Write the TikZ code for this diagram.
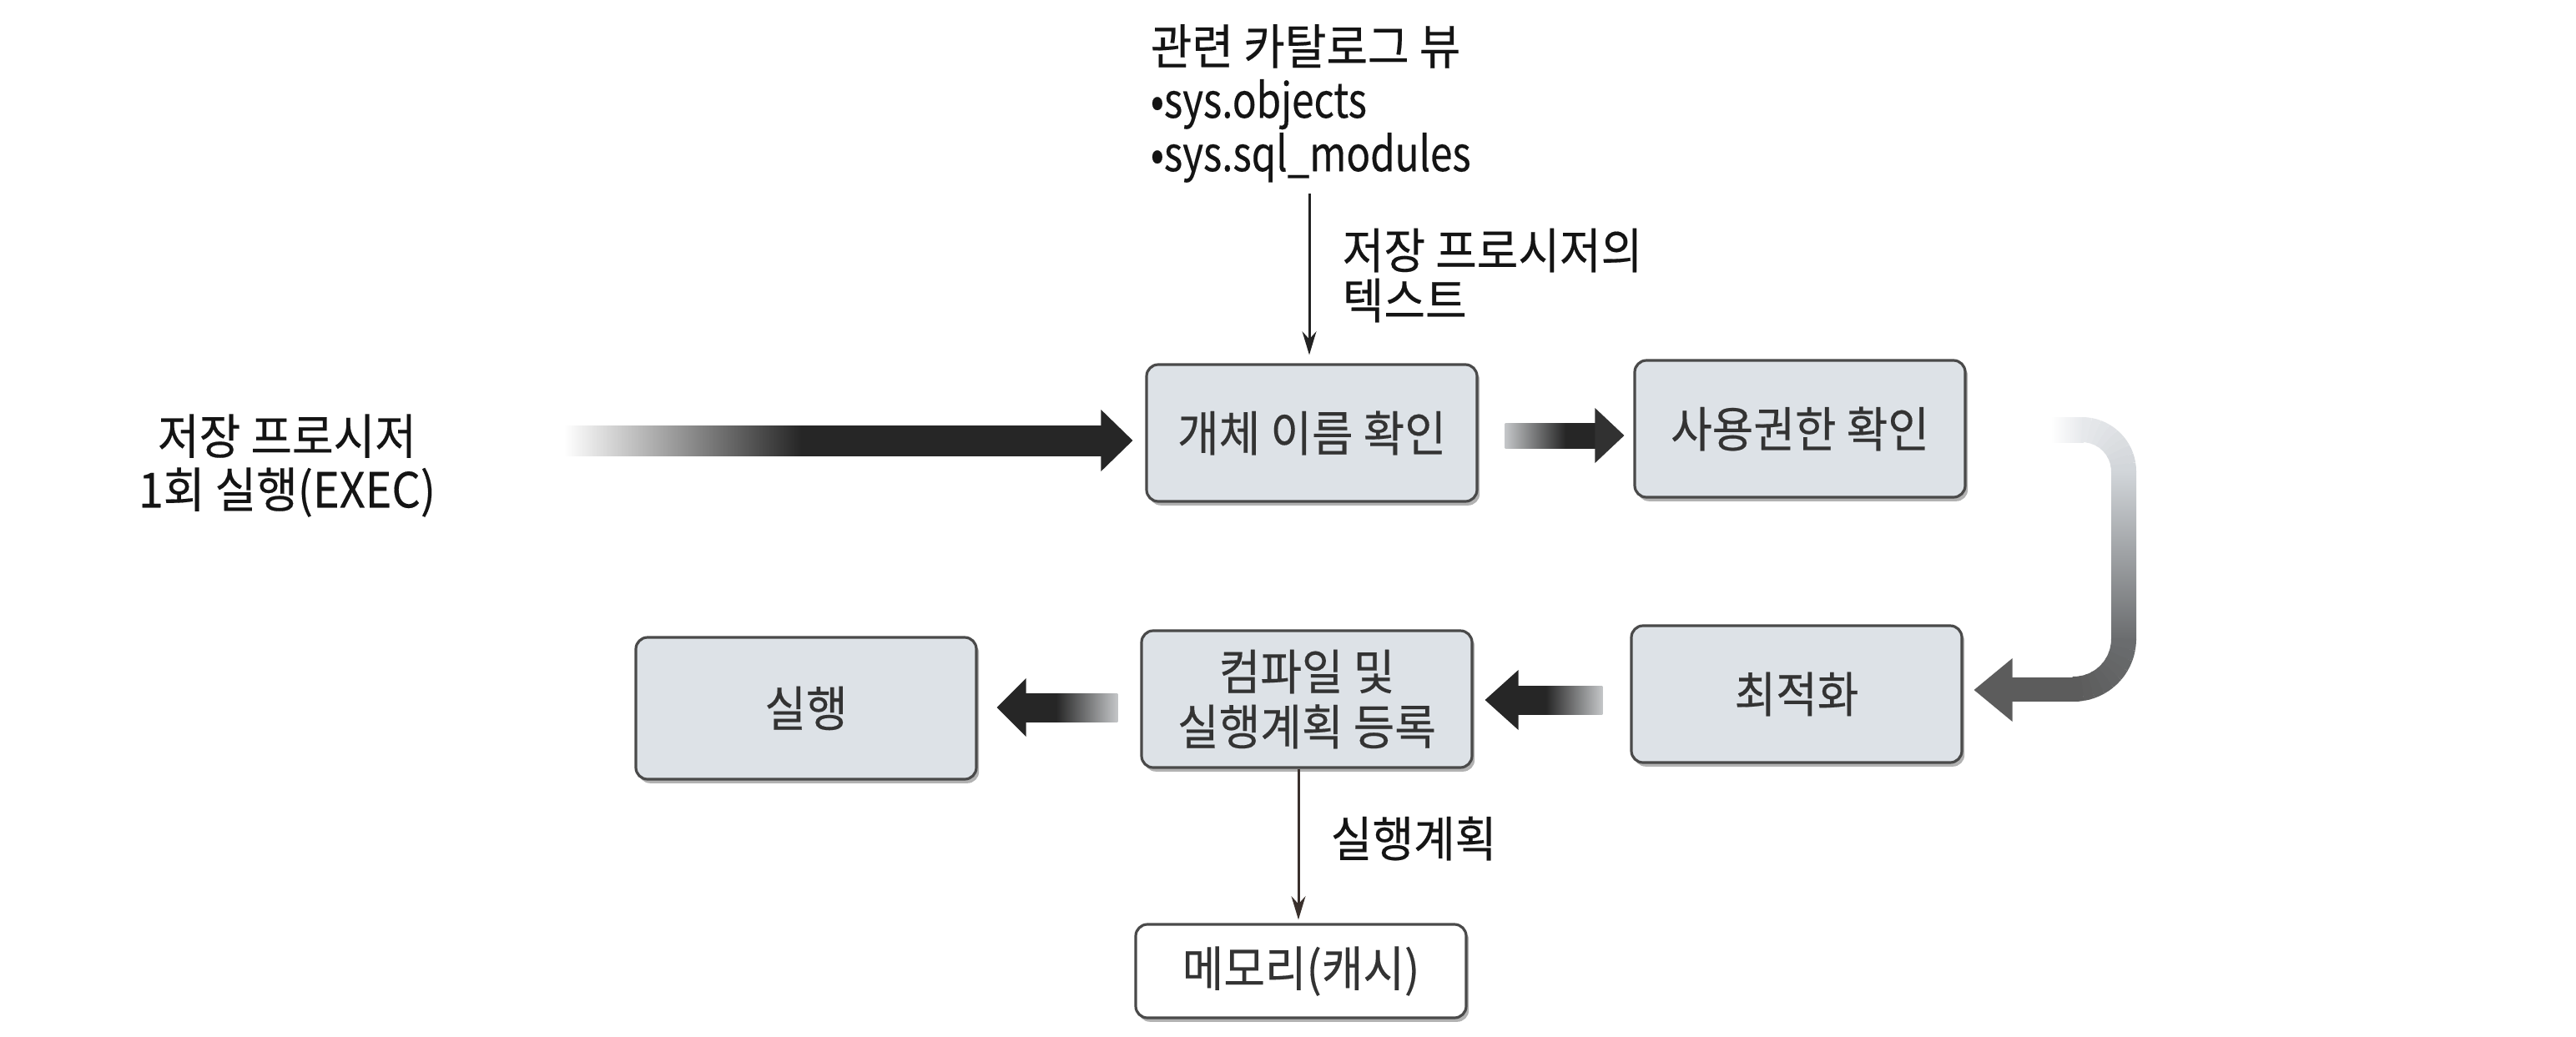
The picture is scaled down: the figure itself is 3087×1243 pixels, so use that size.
\documentclass[tikz,border=0pt]{standalone}
\usepackage{fontspec}
\setmainfont{Noto Sans CJK KR}[FakeStretch=0.93, FakeBold=0.3]
\newfontfamily\lat{Noto Sans CJK KR}[FakeStretch=0.82, FakeBold=0.3]
\usetikzlibrary{calc,shadows,arrows.meta}
\definecolor{boxfill}{HTML}{DDE2E7}
\definecolor{boxline}{HTML}{4A4A4A}
\definecolor{boxtext}{HTML}{333333}
\definecolor{adark}{HTML}{262626}
\definecolor{alight}{HTML}{C4C6C8}
\definecolor{cA}{HTML}{E6E8EB}
\definecolor{cB}{HTML}{D2D6DA}
\definecolor{cM}{HTML}{A0A4A8}
\definecolor{cC}{HTML}{6A6C6E}
\definecolor{cD}{HTML}{5C5C5C}
\definecolor{thinline}{HTML}{222222}
\definecolor{thinbrown}{HTML}{3A302C}
\pgfdeclarehorizontalshading{infade}{100bp}{color(0bp)=(white); color(25bp)=(white); color(47bp)=(adark); color(100bp)=(adark)}
\pgfdeclarehorizontalshading{rfade}{100bp}{color(0bp)=(alight); color(25bp)=(alight); color(58bp)=(adark); color(100bp)=(adark)}
\pgfdeclarehorizontalshading{lfade}{100bp}{color(0bp)=(adark); color(42bp)=(adark); color(75bp)=(alight); color(100bp)=(alight)}
\tikzset{
  box/.style={draw=boxline, line width=0.8pt, fill=boxfill, rounded corners=3.5pt,
    minimum width=99pt, minimum height=41pt, text=boxtext, align=center, inner sep=0pt,
    font=\fontsize{14.5}{16.5}\selectfont,
    drop shadow={shadow xshift=0.8pt, shadow yshift=-1.2pt, fill=black!50, opacity=0.6}},
  lbl/.style={inner sep=0pt, text=black!92, font=\fontsize{14.5}{16}\selectfont},
  thinarr/.style={line width=0.75pt, draw=thinline, -{Stealth[length=7pt,width=4.2pt]}},
}
\begin{document}
\begin{tikzpicture}[x=0.25pt,y=-0.25pt]
\useasboundingbox (0,0) rectangle (3087,1243);
\fill[white] (0,0) rectangle (3087,1243);

% boxes
\node[box] (b1) at (1572,519) {개체 이름 확인};
\node[box] (b2) at (2157,514) {사용권한 확인};
\node[box] (b3) at (2153,832) {최적화};
\node[box] (b4) at (1566,838) {컴파일 및\\실행계획 등록};
\node[box, minimum width=102pt, minimum height=42.5pt] (b5) at (966,849) {실행};
\node[box, fill=white, minimum height=28pt] (b6) at (1559,1164) {메모리(캐시)};

% labels
\node[lbl, anchor=west, align=left] (cat) at (1378,124) {관련 카탈로그 뷰\\{\lat •sys.objects}\\{\lat •sys.sql\_modules}};
\node[lbl, anchor=west, align=left, font=\fontsize{14.5}{15}\selectfont] (tl) at (1608,330) {저장 프로시저의\\텍스트};
\node[lbl, align=center] (inl) at (344,558) {저장 프로시저\\1회 실행(EXEC)};
\node[lbl, anchor=west] (pl) at (1594,1005) {실행계획};

% thin arrows
\coordinate (t0) at (1569,232);
\draw[thinarr, shorten >=2.5pt] (t0) -- (t0 |- b1.north);
\coordinate (m0) at ($(b4.south)+(-10,0)$);
\draw[thinarr, draw=thinbrown, shorten >=1pt] (m0) -- (m0 |- b6.north);

% input fat arrow
\coordinate (in0) at (676,528);
\coordinate (in1) at ($(b1.west|-in0)+(-15,0)$);
\shade[shading=infade] (in0) ++(0,-18) rectangle ($(in1)+(-36,18)$);
\fill[adark] ($(in1)+(-38,-37)$) -- (in1) -- ($(in1)+(-38,37)$) -- cycle;

% b1 -> b2
\coordinate (a1) at ($(b1.east)+(32,3)$);
\coordinate (a1t) at ($(b2.west|-a1)+(-11,0)$);
\shade[shading=rfade] (a1) ++(0,-15) rectangle ($(a1t)+(-33,15)$);
\fill[adark!95] ($(a1t)+(-35,-33)$) -- (a1t) -- ($(a1t)+(-35,33)$) -- cycle;

% b3 -> b4
\coordinate (a3) at ($(b3.west)+(-33,7)$);
\coordinate (a3t) at ($(b4.east|-a3)+(14,0)$);
\shade[shading=lfade] ($(a3t)+(38,-17)$) rectangle ($(a3)+(0,17)$);
\fill[adark] ($(a3t)+(40,-36)$) -- (a3t) -- ($(a3t)+(40,36)$) -- cycle;

% b4 -> b5
\coordinate (a4) at ($(b4.west)+(-27,10)$);
\coordinate (a4t) at ($(b5.east|-a4)+(23,0)$);
\shade[shading=lfade] ($(a4t)+(33,-17)$) rectangle ($(a4)+(0,17)$);
\fill[adark] ($(a4t)+(35,-35)$) -- (a4t) -- ($(a4t)+(35,35)$) -- cycle;

% curved arrow b2 -> b3
\shade[left color=white, right color=cA] (2458,500) rectangle (2497,530);
\foreach \i in {0,...,8} {
  \pgfmathtruncatemacro\p{\i*12.5}
  \draw[line width=7.5pt, color=cB!\p!cA] (2495,565) ++({-90+10*\i}:50) arc[start angle={-90+10*\i}, end angle={-90+10*\i+11}, radius=50];
}
\shade[top color=cB, middle color=cM, bottom color=cC] (2530,564) rectangle (2560,767);
\foreach \i in {0,...,8} {
  \pgfmathtruncatemacro\p{\i*12.5}
  \draw[line width=7.5pt, color=cD!\p!cC] (2485,766) ++({10*\i}:60) arc[start angle={10*\i}, end angle={10*\i+11}, radius=60];
}
\coordinate (ct) at ($(b3.east)+(13,-5)$);
\fill[cD] ($(ct)+(44,-15)$) rectangle (2486,841);
\fill[cD] ($(ct)+(46,-38)$) -- (ct) -- ($(ct)+(46,38)$) -- cycle;
\end{tikzpicture}
\end{document}
